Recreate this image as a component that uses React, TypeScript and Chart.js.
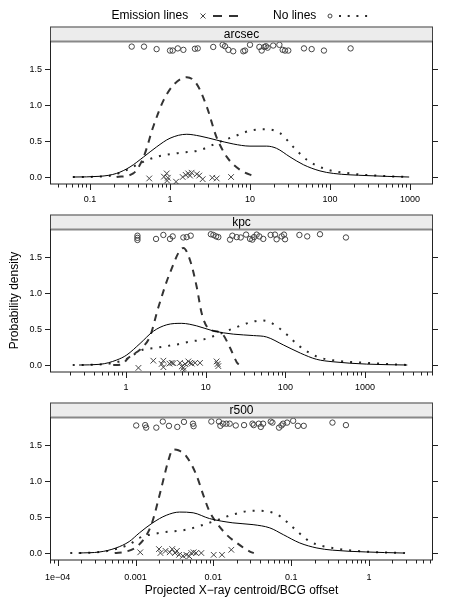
import React, { useEffect, useRef } from 'react';
import { Chart, registerables } from 'chart.js';
Chart.register(...registerables);

const FONT = '"Liberation Sans", Arial, Helvetica, sans-serif';

// ---------- shared y axis ----------
const yTickValues = [0, 0.5, 1, 1.5];
const yTickLabels = ['0.0', '0.5', '1.0', '1.5'];
const yMin = -0.097;
const yMax = 1.893;

// ---------- arcsec panel ----------
const arcsecTickValues = [0.1, 1, 10, 100, 1000];
const arcsecTickLabels = ['0.1', '1', '10', '100', '1000'];
const arcsecAllX = [0.061, 0.133, 0.214, 0.316, 0.468, 0.681, 1.0, 1.62, 2.37, 3.8, 6.17, 10, 16.2, 21.4, 31.6, 46.8, 75, 110, 288, 977];
const arcsecAllY = [0, 0.01, 0.05, 0.14, 0.28, 0.42, 0.54, 0.595, 0.57, 0.515, 0.46, 0.43, 0.43, 0.40, 0.28, 0.17, 0.085, 0.05, 0.02, 0];
const arcsecEmCurveX = [0.215, 0.347, 0.468, 0.617, 0.832, 1.10, 1.62, 2.14, 2.88, 3.8, 5.13, 7.5, 11.5];
const arcsecEmCurveY = [0, 0.05, 0.28, 0.70, 1.07, 1.28, 1.39, 1.30, 0.98, 0.56, 0.28, 0.10, 0.005];
const arcsecNoCurveX = [0.061, 0.126, 0.2, 0.316, 0.42, 0.676, 1.2, 2.37, 3.8, 6.17, 11, 16.2, 23.7, 34.7, 51.3, 83, 178, 457, 977];
const arcsecNoCurveY = [0, 0.005, 0.03, 0.12, 0.19, 0.28, 0.33, 0.375, 0.47, 0.56, 0.655, 0.665, 0.61, 0.42, 0.24, 0.12, 0.05, 0.015, 0];
const arcsecNoPtsX = [0.332, 0.473, 0.68, 1.0, 1.08, 1.25, 1.47, 2.05, 2.22, 3.47, 4.55, 4.87, 5.37, 6.17, 8.25, 8.66, 10, 13.1, 14.0, 15.1, 15.8, 16.6, 19.5, 23.3, 25.6, 27.4, 30.1, 47.3, 59, 84, 181];
const arcsecNoPtsY = [1.815, 1.815, 1.78, 1.76, 1.76, 1.79, 1.77, 1.785, 1.79, 1.81, 1.84, 1.82, 1.77, 1.75, 1.75, 1.76, 1.84, 1.81, 1.76, 1.81, 1.82, 1.80, 1.83, 1.84, 1.77, 1.76, 1.76, 1.79, 1.78, 1.76, 1.79];
const arcsecEmPtsX = [0.55, 0.84, 0.91, 0.92, 0.94, 1.19, 1.44, 1.57, 1.69, 1.78, 1.86, 2.16, 2.32, 2.56, 3.38, 3.83, 5.8];
const arcsecEmPtsY = [-0.02, 0.005, 0.05, -0.05, -0.01, -0.065, 0.0, 0.03, 0.05, 0.02, 0.06, 0.04, 0.02, -0.03, -0.01, -0.02, 0.0];

// ---------- kpc panel ----------
const kpcTickValues = [1, 10, 100, 1000];
const kpcTickLabels = ['1', '10', '100', '1000'];
const kpcAllX = [0.257, 0.472, 0.764, 1.02, 1.5, 2.2, 3.24, 5.0, 7.7, 12.4, 22.2, 39.8, 58.2, 94.2, 155, 245, 398, 1047, 3390];
const kpcAllY = [0, 0.01, 0.07, 0.14, 0.30, 0.47, 0.56, 0.58, 0.545, 0.475, 0.43, 0.41, 0.39, 0.28, 0.165, 0.08, 0.045, 0.013, 0];
const kpcEmCurveX = [0.69, 0.89, 1.07, 1.58, 2.0, 2.54, 3.55, 5.25, 6.35, 7.7, 8.9, 10.8, 15.9, 20.2, 24.5, 26.3];
const kpcEmCurveY = [0, 0.01, 0.1, 0.24, 0.4, 0.8, 1.28, 1.63, 1.46, 1.09, 0.72, 0.51, 0.44, 0.24, 0.04, 0];
const kpcNoCurveX = [0.214, 0.5, 1.0, 1.58, 2.19, 3.09, 4.53, 6.6, 8.9, 12.4, 22.2, 39.8, 52.5, 70.8, 105, 151, 245, 398, 1047, 3390];
const kpcNoCurveY = [0, 0.01, 0.08, 0.21, 0.235, 0.26, 0.29, 0.33, 0.35, 0.40, 0.51, 0.605, 0.62, 0.57, 0.42, 0.26, 0.12, 0.065, 0.03, 0];
const kpcNoPtsX = [1.39, 1.39, 1.39, 2.38, 2.94, 3.56, 3.85, 5.24, 5.77, 6.48, 11.6, 12.5, 13.5, 14.4, 20.2, 21.6, 24.5, 27.5, 32.1, 36, 38.5, 40.4, 43.6, 47.1, 52.8, 65.3, 74, 77.6, 89.8, 96, 99, 150, 188, 272, 576];
const kpcNoPtsY = [1.80, 1.77, 1.74, 1.755, 1.81, 1.755, 1.79, 1.775, 1.78, 1.80, 1.82, 1.81, 1.79, 1.78, 1.745, 1.80, 1.78, 1.775, 1.815, 1.755, 1.745, 1.78, 1.815, 1.79, 1.755, 1.81, 1.815, 1.75, 1.79, 1.815, 1.75, 1.81, 1.79, 1.82, 1.775];
const kpcEmPtsX = [1.43, 2.2, 2.8, 2.94, 2.94, 3.5, 3.74, 3.93, 4.76, 5.0, 5.24, 5.3, 5.5, 6.05, 6.35, 6.67, 7.35, 8.48, 13.7, 14.1, 14.4];
const kpcEmPtsY = [-0.04, 0.06, 0.015, 0.06, -0.03, 0.02, 0.03, 0.025, 0.03, -0.02, -0.04, -0.075, 0.015, 0.05, 0.03, 0.02, 0.03, 0.03, 0.05, 0.015, -0.015];

// ---------- r500 panel ----------
const r500TickValues = [0.0001, 0.001, 0.01, 0.1, 1];
const r500TickLabels = ['1e\u221204', '0.001', '0.01', '0.1', '1'];
const r500AllX = [0.000185, 0.000347, 0.00056, 0.00083, 0.00112, 0.00166, 0.00248, 0.00368, 0.0055, 0.0089, 0.0178, 0.0324, 0.0531, 0.0794, 0.129, 0.214, 0.339, 0.912, 2.75];
const r500AllY = [0, 0.015, 0.07, 0.16, 0.28, 0.42, 0.525, 0.57, 0.56, 0.48, 0.42, 0.395, 0.35, 0.255, 0.14, 0.07, 0.04, 0.015, 0];
const r500EmCurveX = [0.00054, 0.00076, 0.00112, 0.00158, 0.00204, 0.00234, 0.00263, 0.00302, 0.00355, 0.00447, 0.00603, 0.00741, 0.0089, 0.011, 0.0148, 0.02, 0.0295, 0.0331];
const r500EmCurveY = [0, 0.02, 0.12, 0.38, 0.81, 1.07, 1.28, 1.44, 1.43, 1.35, 1.09, 0.81, 0.58, 0.42, 0.255, 0.14, 0.02, 0];
const r500NoCurveX = [0.000145, 0.00032, 0.00083, 0.00112, 0.00204, 0.00447, 0.01, 0.0178, 0.0324, 0.049, 0.0724, 0.107, 0.174, 0.339, 0.912, 3.09];
const r500NoCurveY = [0, 0.01, 0.12, 0.21, 0.28, 0.325, 0.44, 0.535, 0.59, 0.58, 0.51, 0.35, 0.16, 0.07, 0.02, 0];
const r500NoPtsX = [0.00102, 0.00133, 0.00137, 0.00185, 0.00224, 0.00269, 0.00344, 0.00419, 0.00547, 0.00557, 0.00942, 0.0118, 0.0123, 0.0133, 0.0147, 0.0162, 0.0194, 0.0248, 0.0318, 0.033, 0.0383, 0.0407, 0.0435, 0.0546, 0.0574, 0.0698, 0.075, 0.0787, 0.0885, 0.106, 0.122, 0.145, 0.339, 0.505];
const r500NoPtsY = [1.775, 1.78, 1.745, 1.745, 1.83, 1.77, 1.755, 1.825, 1.80, 1.765, 1.83, 1.83, 1.77, 1.80, 1.80, 1.80, 1.775, 1.78, 1.80, 1.78, 1.80, 1.755, 1.80, 1.83, 1.815, 1.745, 1.775, 1.80, 1.815, 1.84, 1.77, 1.77, 1.815, 1.78];
const r500EmPtsX = [0.00115, 0.002, 0.00209, 0.00243, 0.00275, 0.00296, 0.00321, 0.0034, 0.00363, 0.00407, 0.0045, 0.0049, 0.00521, 0.00557, 0.006, 0.007, 0.0101, 0.0129, 0.017];
const r500EmPtsY = [0.01, 0.055, 0.0, 0.03, 0.01, 0.055, 0, 0.03, -0.025, -0.04, -0.025, -0.045, 0, 0.01, 0, 0, -0.025, -0.025, 0.045];

// ---------- text ----------
const legendEmission = 'Emission lines';
const legendNoLines = 'No lines';
const yTitle = 'Probability density';
const xTitle = 'Projected X\u2212ray centroid/BCG offset';

const zip = (xs: number[], ys: number[]) => xs.map((x, i) => ({ x, y: ys[i] }));

const POINT_COL = '#444444';
const DASH_COL = '#333333';
const DOT_COL = '#2a2a2a';
const AXIS_COL = '#222222';
const TICK_FONT = 9;

type PanelSpec = {
  name: string;
  xMin: number;
  xMax: number;
  tickValues: number[];
  tickLabels: string[];
  allX: number[]; allY: number[];
  emX: number[]; emY: number[];
  noX: number[]; noY: number[];
  noPX: number[]; noPY: number[];
  emPX: number[]; emPY: number[];
  top: number; height: number; padTop: number; axisH: number; labelPad: number;
  extra: 'legend' | 'ytitle' | 'xtitle';
};

const PANELS: PanelSpec[] = [
  {
    name: 'arcsec', xMin: 0.0316, xMax: 1940, tickValues: arcsecTickValues, tickLabels: arcsecTickLabels,
    allX: arcsecAllX, allY: arcsecAllY, emX: arcsecEmCurveX, emY: arcsecEmCurveY, noX: arcsecNoCurveX, noY: arcsecNoCurveY,
    noPX: arcsecNoPtsX, noPY: arcsecNoPtsY, emPX: arcsecEmPtsX, emPY: arcsecEmPtsY,
    top: 0, height: 210, padTop: 41, axisH: 26, labelPad: 10, extra: 'legend',
  },
  {
    name: 'kpc', xMin: 0.111, xMax: 7130, tickValues: kpcTickValues, tickLabels: kpcTickLabels,
    allX: kpcAllX, allY: kpcAllY, emX: kpcEmCurveX, emY: kpcEmCurveY, noX: kpcNoCurveX, noY: kpcNoCurveY,
    noPX: kpcNoPtsX, noPY: kpcNoPtsY, emPX: kpcEmPtsX, emPY: kpcEmPtsY,
    top: 210, height: 188, padTop: 19, axisH: 26, labelPad: 10, extra: 'ytitle',
  },
  {
    name: 'r500', xMin: 0.0000796, xMax: 6.64, tickValues: r500TickValues, tickLabels: r500TickLabels,
    allX: r500AllX, allY: r500AllY, emX: r500EmCurveX, emY: r500EmCurveY, noX: r500NoCurveX, noY: r500NoCurveY,
    noPX: r500NoPtsX, noPY: r500NoPtsY, emPX: r500EmPtsX, emPY: r500EmPtsY,
    top: 398, height: 212, padTop: 19, axisH: 50, labelPad: 12, extra: 'xtitle',
  },
];

function logTicks(min: number, max: number) {
  const out: { value: number; major: boolean }[] = [];
  const e0 = Math.floor(Math.log10(min));
  const e1 = Math.ceil(Math.log10(max));
  for (let e = e0; e <= e1; e++) {
    for (let m = 1; m <= 9; m++) {
      const v = parseFloat((m * Math.pow(10, e)).toPrecision(6));
      if (v >= min && v <= max) out.push({ value: v, major: m === 1 });
    }
  }
  return out;
}

function makeChart(canvas: HTMLCanvasElement, p: PanelSpec) {
  const xTicks = logTicks(p.xMin, p.xMax);
  const labelFor = (v: number) => {
    const i = p.tickValues.findIndex((t) => Math.abs(Math.log10(t) - Math.log10(v)) < 1e-6);
    return i >= 0 ? p.tickLabels[i] : '';
  };
  const yAxisBase = (pos: 'left' | 'right', width: number, labels: boolean) => ({
    type: 'linear' as const,
    position: pos,
    min: yMin,
    max: yMax,
    afterBuildTicks: (s: any) => {
      s.ticks = yTickValues.map((v) => ({ value: v }));
    },
    afterFit: (s: any) => {
      s.width = width;
    },
    border: { display: false },
    grid: { display: true, drawOnChartArea: false, drawTicks: true, tickLength: 5, tickColor: AXIS_COL, tickWidth: 1 },
    ticks: {
      padding: 3,
      color: '#000',
      font: { family: FONT, size: TICK_FONT },
      callback: (v: any) => {
        if (!labels) return '';
        const i = yTickValues.findIndex((t) => Math.abs(t - v) < 1e-9);
        return i >= 0 ? yTickLabels[i] : '';
      },
    },
  });

  const deco = {
    id: 'deco_' + p.name,
    afterDraw(chart: any) {
      const { ctx, chartArea: a, scales } = chart;
      ctx.save();
      // x tick marks (major longer)
      ctx.strokeStyle = AXIS_COL;
      ctx.lineWidth = 1;
      for (const t of xTicks) {
        const px = Math.round(scales.x.getPixelForValue(t.value)) + 0.5;
        ctx.beginPath();
        ctx.moveTo(px, a.bottom);
        ctx.lineTo(px, a.bottom + (t.major ? 6 : 3.5));
        ctx.stroke();
      }
      // strip
      const stripH = 14.5;
      ctx.fillStyle = '#ececec';
      ctx.fillRect(a.left, a.top - stripH, a.right - a.left, stripH);
      ctx.strokeStyle = '#444';
      ctx.strokeRect(a.left + 0.5, a.top - stripH + 0.5, a.right - a.left - 1, stripH);
      ctx.fillStyle = '#000';
      ctx.font = `12px ${FONT}`;
      ctx.textAlign = 'center';
      ctx.textBaseline = 'middle';
      ctx.fillText(p.name, (a.left + a.right) / 2, a.top - stripH / 2 + 0.5);
      // panel box
      ctx.strokeStyle = AXIS_COL;
      ctx.strokeRect(a.left + 0.5, a.top + 0.5, a.right - a.left - 1, a.bottom - a.top - 0.5);
      ctx.strokeStyle = '#888';
      ctx.lineWidth = 2;
      ctx.beginPath();
      ctx.moveTo(a.left + 1, a.top + 0.5);
      ctx.lineTo(a.right - 1, a.top + 0.5);
      ctx.stroke();
      ctx.lineWidth = 1;

      if (p.extra === 'legend') {
        const cy = 16;
        ctx.fillStyle = '#000';
        ctx.font = `12px ${FONT}`;
        ctx.textAlign = 'left';
        ctx.textBaseline = 'middle';
        ctx.fillText(legendEmission, 111.5, cy);
        ctx.fillText(legendNoLines, 273, cy);
        // cross symbol
        ctx.strokeStyle = POINT_COL;
        ctx.lineWidth = 1;
        ctx.beginPath();
        ctx.moveTo(200.5, cy - 2.5); ctx.lineTo(205.5, cy + 2.5);
        ctx.moveTo(205.5, cy - 2.5); ctx.lineTo(200.5, cy + 2.5);
        ctx.stroke();
        // dashed
        ctx.strokeStyle = DASH_COL;
        ctx.lineWidth = 2;
        ctx.setLineDash([9, 7]);
        ctx.beginPath();
        ctx.moveTo(213, cy); ctx.lineTo(239, cy);
        ctx.stroke();
        // circle symbol
        ctx.setLineDash([]);
        ctx.lineWidth = 1;
        ctx.strokeStyle = POINT_COL;
        ctx.beginPath();
        ctx.arc(330, cy, 2, 0, Math.PI * 2);
        ctx.stroke();
        // dotted
        ctx.strokeStyle = DOT_COL;
        ctx.lineWidth = 2;
        ctx.setLineDash([2, 6.7]);
        ctx.beginPath();
        ctx.moveTo(339, cy); ctx.lineTo(369, cy);
        ctx.stroke();
        ctx.setLineDash([]);
      } else if (p.extra === 'ytitle') {
        ctx.fillStyle = '#000';
        ctx.font = `12px ${FONT}`;
        ctx.textAlign = 'center';
        ctx.textBaseline = 'middle';
        ctx.translate(14.5, (a.top + a.bottom) / 2);
        ctx.rotate(-Math.PI / 2);
        ctx.fillText(yTitle, 0, 0);
      } else if (p.extra === 'xtitle') {
        ctx.fillStyle = '#000';
        ctx.font = `12px ${FONT}`;
        ctx.textAlign = 'center';
        ctx.textBaseline = 'middle';
        ctx.fillText(xTitle, (a.left + a.right) / 2, a.bottom + 31);
      }
      ctx.restore();
    },
  };

  return new Chart(canvas, {
    type: 'line',
    data: {
      datasets: [
        {
          data: zip(p.allX, p.allY), borderColor: '#000', borderWidth: 1, pointRadius: 0,
          cubicInterpolationMode: 'monotone', fill: false,
        },
        {
          data: zip(p.emX, p.emY), borderColor: DASH_COL, borderWidth: 2, borderDash: [7, 6], pointRadius: 0,
          cubicInterpolationMode: 'monotone', fill: false,
        },
        {
          data: zip(p.noX, p.noY), borderColor: DOT_COL, borderWidth: 2, borderDash: [2, 7], pointRadius: 0,
          cubicInterpolationMode: 'monotone', fill: false,
        },
        {
          data: zip(p.noPX, p.noPY), showLine: false, pointStyle: 'circle', pointRadius: 2.7,
          borderColor: POINT_COL, backgroundColor: 'rgba(0,0,0,0)', pointBorderWidth: 1,
        },
        {
          data: zip(p.emPX, p.emPY), showLine: false, pointStyle: 'crossRot', pointRadius: 4,
          borderColor: POINT_COL, backgroundColor: POINT_COL, pointBorderWidth: 1,
        },
      ] as any,
    },
    options: {
      responsive: false,
      animation: false,
      events: [],
      layout: { padding: { top: p.padTop, left: 0, right: 0, bottom: 0 } },
      plugins: { legend: { display: false }, tooltip: { enabled: false } },
      scales: {
        x: {
          type: 'logarithmic',
          min: p.xMin,
          max: p.xMax,
          afterBuildTicks: (s: any) => {
            s.ticks = xTicks.map((t) => ({ value: t.value }));
          },
          afterFit: (s: any) => {
            s.height = p.axisH;
          },
          border: { display: false },
          grid: { display: false, drawTicks: false },
          ticks: {
            autoSkip: false,
            maxRotation: 0,
            minRotation: 0,
            padding: p.labelPad,
            color: '#000',
            font: { family: FONT, size: TICK_FONT },
            callback: (v: any) => labelFor(Number(v)),
          },
        },
        y: yAxisBase('left', 50, true),
        yr: yAxisBase('right', 25, false),
      } as any,
    },
    plugins: [deco],
  });
}

function Panel({ spec }: { spec: PanelSpec }) {
  const ref = useRef<HTMLCanvasElement | null>(null);
  useEffect(() => {
    if (!ref.current) return;
    const chart = makeChart(ref.current, spec);
    return () => chart.destroy();
  }, [spec]);
  return (
    <canvas
      ref={ref}
      width={458}
      height={spec.height}
      style={{ position: 'absolute', left: 0, top: spec.top, width: 458, height: spec.height, display: 'block' }}
    />
  );
}

export default function App() {
  return (
    <div style={{ position: 'absolute', left: 0, top: 0, width: 458, height: 610, background: '#fff', overflow: 'hidden' }}>
      {PANELS.map((p) => (
        <Panel key={p.name} spec={p} />
      ))}
    </div>
  );
}
